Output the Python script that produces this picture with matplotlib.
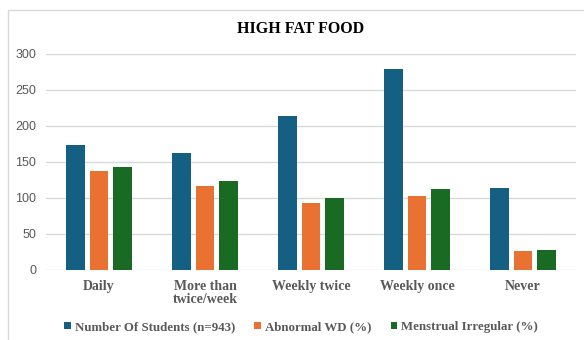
import matplotlib
matplotlib.use("Agg")
import matplotlib.pyplot as plt
from matplotlib.patches import Rectangle
import numpy as np

categories = ["Daily", "More than\ntwice/week", "Weekly twice", "Weekly once", "Never"]
students = [173, 162, 214, 279, 114]
abnormal_wd = [138, 117, 93, 103, 26]
menstrual_irregular = [143, 124, 100, 112, 28]
series_names = ["Number Of Students (n=943)", "Abnormal WD (%)", "Menstrual Irregular (%)"]
colors = ["#156082", "#E97132", "#196B24"]
yticks = [0, 50, 100, 150, 200, 250, 300]

fig = plt.figure(figsize=(5.84, 3.40), dpi=100)
fig.patch.set_facecolor("white")

# chart frame
fig.patches.append(Rectangle((8 / 584, -0.05), 1.0, 1 - 10 / 340 + 0.05,
                             transform=fig.transFigure, fill=False,
                             edgecolor="#D9D9D9", linewidth=1.0, zorder=0))

ax = fig.add_axes([46 / 584, 1 - 270 / 340, (576 - 46) / 584, (270 - 54) / 340])

x = np.arange(len(categories))
width = 0.175
step = 0.223
data = [students, abnormal_wd, menstrual_irregular]
for i, (vals, name, c) in enumerate(zip(data, series_names, colors)):
    ax.bar(x + (i - 1) * step, vals, width, color=c, label=name, zorder=3)

ax.set_ylim(0, 300)
ax.set_xlim(-0.5, len(categories) - 0.5)
ax.set_yticks(yticks)
ax.yaxis.grid(True, color="#D9D9D9", linewidth=1.0, zorder=0)
for s in ax.spines.values():
    s.set_visible(False)
ax.tick_params(axis="both", length=0)
ax.tick_params(axis="y", labelsize=9, labelcolor="#595959", pad=7)
for lbl in ax.get_yticklabels():
    lbl.set_family("Liberation Sans")
ax.set_xticks(x)
ax.set_xticklabels(categories, fontfamily="Liberation Serif", fontweight="bold",
                   fontsize=10, color="#595959", linespacing=1.0)
ax.tick_params(axis="x", pad=7)

fig.text(0.515, 1 - 29 / 340, "HIGH FAT FOOD", ha="center", va="center",
         fontfamily="Liberation Serif", fontweight="bold", fontsize=11.5, color="black")

leg = fig.legend(loc="center", bbox_to_anchor=(301 / 584, 1 - 327 / 340), ncol=3, frameon=False,
                 prop={"family": "Liberation Serif", "weight": "bold", "size": 9.3},
                 handlelength=0.5, handleheight=0.5, handletextpad=0.3, columnspacing=1.5)
for t in leg.get_texts():
    t.set_color("#595959")

fig.savefig("out.png", dpi=100, facecolor="white")
